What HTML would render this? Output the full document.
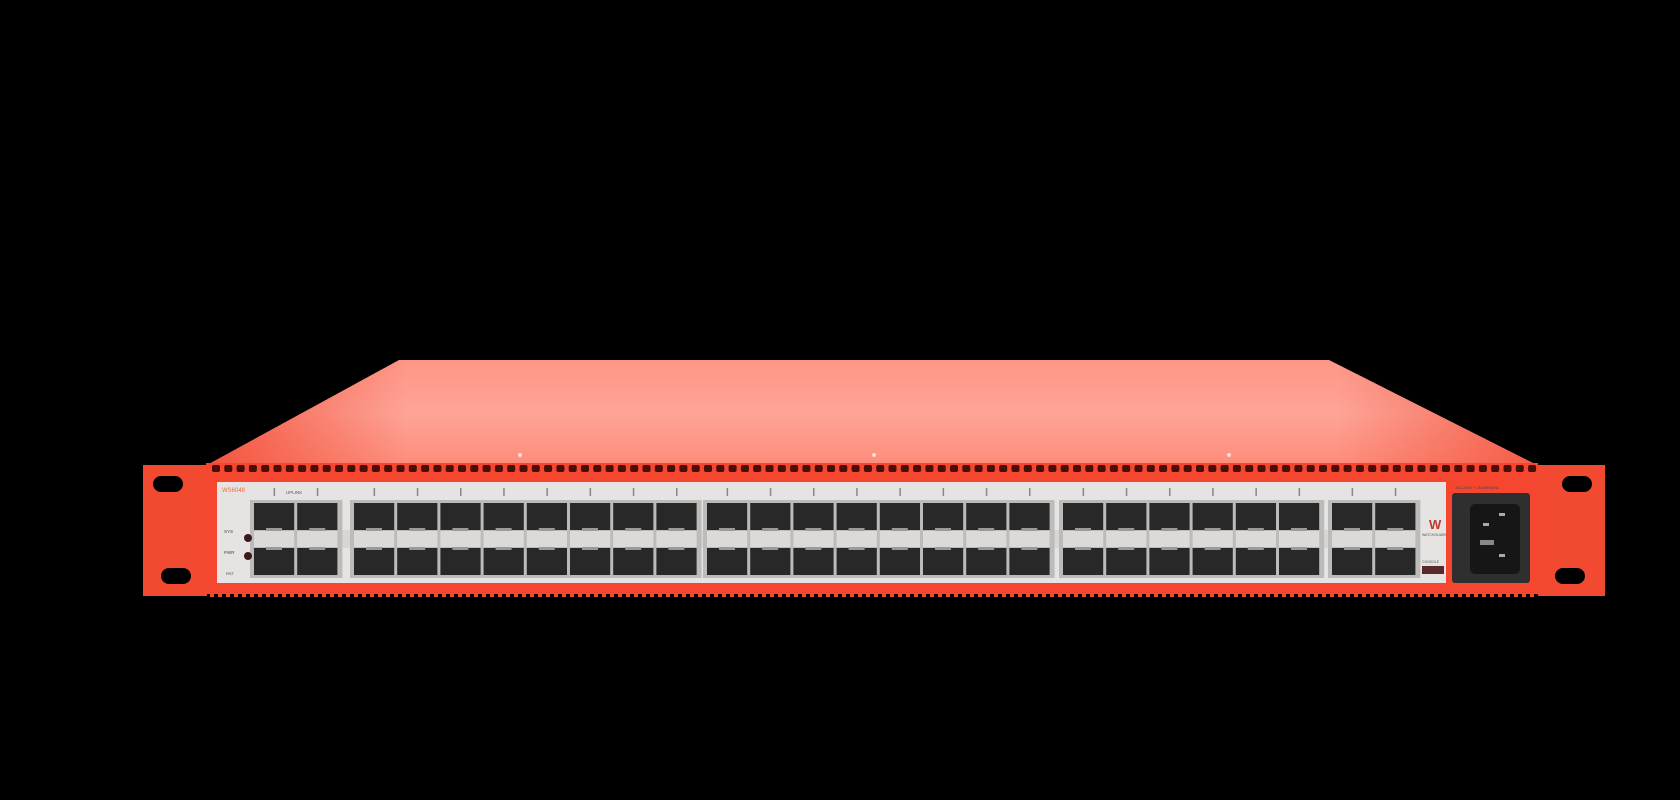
<!DOCTYPE html>
<html><head><meta charset="utf-8"><style>
html,body{margin:0;padding:0;background:#000;width:1680px;height:800px;overflow:hidden}
svg{display:block}
text{font-family:"Liberation Sans",sans-serif}
</style></head><body>
<svg id="s" width="1680" height="800" viewBox="0 0 1680 800" xmlns="http://www.w3.org/2000/svg">
<defs>
<linearGradient id="top" x1="0" y1="0" x2="0" y2="1">
<stop offset="0" stop-color="#ff9f90"/><stop offset="0.5" stop-color="#ffafa3"/><stop offset="1" stop-color="#ff9482"/>
</linearGradient>
<linearGradient id="topx" x1="0" y1="0" x2="1" y2="0">
<stop offset="0" stop-color="#f0442e" stop-opacity="0.8"/><stop offset="0.15" stop-color="#f0442e" stop-opacity="0.1"/><stop offset="0.85" stop-color="#f0442e" stop-opacity="0.1"/><stop offset="1" stop-color="#f0442e" stop-opacity="0.7"/>
</linearGradient>
</defs>
<rect width="1680" height="800" fill="#000"/>
<polygon points="399,360 1329,360 1537,465 207,465" fill="url(#top)"/>
<polygon points="399,360 1329,360 1537,465 207,465" fill="url(#topx)"/>
<circle cx="520" cy="455" r="2" fill="#fff" opacity="0.7"/>
<circle cx="874" cy="455" r="2" fill="#fff" opacity="0.7"/>
<circle cx="1229" cy="455" r="2" fill="#fff" opacity="0.7"/>
<rect x="143" y="465" width="64" height="131" fill="#f24a31"/>
<rect x="1538" y="465" width="67" height="131" fill="#f24a31"/>
<rect x="153" y="476" width="30" height="16" rx="8" fill="#000"/>
<rect x="161" y="568" width="30" height="16" rx="8" fill="#000"/>
<rect x="1562" y="476" width="30" height="16" rx="8" fill="#000"/>
<rect x="1555" y="568" width="30" height="16" rx="8" fill="#000"/>
<rect x="206" y="463" width="1332" height="131" fill="#f5472f"/>
<g id="vents"></g>
<g id="teeth"></g>
<rect x="217" y="482" width="1229" height="101" fill="#e6e4e2"/>
<rect x="254" y="530" width="1166" height="18" fill="#d8d6d4"/>
<g id="ports"></g>
<text x="222" y="492" font-size="6" fill="#f26a3a">WS6048</text>
<text x="286" y="494" font-size="4.5" fill="#555">UPLINK</text>
<text x="224" y="533" font-size="4.5" fill="#444">SYS</text>
<text x="224" y="554" font-size="4.5" fill="#444">PWR</text>
<text x="226" y="575" font-size="4" fill="#444">RST</text>
<circle cx="248" cy="538" r="4" fill="#3a1a1a"/>
<circle cx="248" cy="556" r="4" fill="#3a1a1a"/>
<rect x="1452" y="493" width="78" height="90" rx="3" fill="#2f2f2f"/>
<rect x="1470" y="504" width="50" height="70" rx="5" fill="#161616"/>
<rect x="1480" y="540" width="14" height="5" fill="#888"/>
<rect x="1483" y="523" width="6" height="3" fill="#aaa"/>
<rect x="1499" y="513" width="6" height="3" fill="#aaa"/>
<rect x="1499" y="554" width="6" height="3" fill="#aaa"/>
<text x="1455" y="489" font-size="4" fill="#444">100-240V~1.5A 50/60Hz</text>
<text x="1429" y="529" font-size="13" font-weight="bold" fill="#c0392b">W</text>
<text x="1422" y="536" font-size="3.5" fill="#555">WATCHGUARD</text>
<text x="1422" y="563" font-size="3.5" fill="#555">CONSOLE</text>
<rect x="1422" y="566" width="22" height="8" fill="#5a2a2a"/>
</svg>
<script>
var ns="http://www.w3.org/2000/svg";
function r(g,x,y,w,h,f,rx){var e=document.createElementNS(ns,"rect");e.setAttribute("x",x);e.setAttribute("y",y);e.setAttribute("width",w);e.setAttribute("height",h);e.setAttribute("fill",f);if(rx)e.setAttribute("rx",rx);document.getElementById(g).appendChild(e);}
for(var x=212;x<1534;x+=12.3){r("vents",x,465,8,7,"#4a0e08",2);}
for(var x=210;x<1536;x+=8){r("teeth",x,593,4,4,"#f24a31");}
var groups=[[254,2],[354,8],[707,8],[1063,6],[1332,2]];
groups.forEach(function(g){
 var n=g[1],x0=g[0],w=43.2;
 r("ports",x0-4,500,n*w+6,78,"#bdbbb9");
 for(var i=0;i<n;i++){
  var x=x0+i*w;
  r("ports",x,503,w-3,27,"#282828");
  r("ports",x,548,w-3,27,"#282828");
  r("ports",x,531,w-3,16,"#dcdad8");
  r("ports",x+12,528,16,3,"#9a9a9a");
  r("ports",x+12,547,16,3,"#9a9a9a");
  r("ports",x+w/2-2,488,1.5,8,"#888");
 }
});
</script>
</body></html>
